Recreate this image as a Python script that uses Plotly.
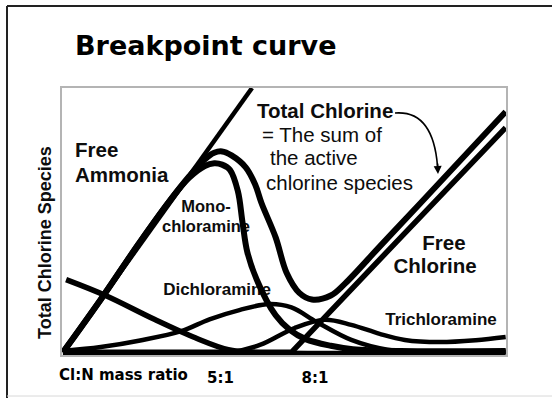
import plotly.graph_objects as go

# ---- data: Cl:N mass ratio (x) vs concentration of each species (arbitrary units) ----
dose_x = [0.0, 6.0]
dose_y = [0.0, 100.0]

ammonia_x = [0.1, 1.35, 2.9, 4.2, 5.25, 6.0, 14.05]
ammonia_y = [27.5, 21.5, 12.5, 5.5, 1.0, 0.0, 0.0]

mono_x = [0, 1.2, 2.4, 3.4, 4.0, 4.5, 4.8, 5.05, 5.3, 5.55, 5.7, 5.85, 6.15, 6.75, 7.2, 7.7, 8.5, 9.2, 10.7, 14.05]
mono_y = [0, 20, 41, 57.5, 66, 70.5, 71.5, 71, 69, 61, 49, 38, 27.5, 14, 8.5, 5, 2.5, 1.2, 0.5, 0.5]

dichlor_x = [0, 1.2, 2.45, 3.75, 4.65, 5.6, 6.55, 7.25, 8.05, 9.15, 10.3, 11.65, 14.05]
dichlor_y = [0.5, 2, 4.5, 8, 12.5, 16, 18.3, 17, 11.5, 4.7, 1, 0.2, 0.2]

trichlor_x = [0, 5.25, 6.25, 7.35, 8.3, 9.15, 10.05, 10.85, 11.95, 13.1, 14.05]
trichlor_y = [0, 0, 2.8, 9.2, 12.3, 10.4, 7, 4.7, 3.9, 4.6, 5.8]

free_cl_x = [0, 7.25, 10.6, 14.05]
free_cl_y = [0, 0, 42, 85]

total_x = [0, 1.2, 2.4, 3.4, 4.0, 4.5, 4.8, 5.05, 5.35, 5.8, 6.1, 6.3, 6.75, 7.1, 7.5, 7.9, 8.5, 8.95, 10.05, 11.35, 14.05]
total_y = [0, 20, 41, 57.5, 66.5, 73, 75.5, 76, 74.5, 70, 63.5, 56.5, 43.5, 30, 22.5, 20, 21.5, 26, 40, 56.5, 91]

tick_vals = [5, 8]
tick_text = ["5:1", "8:1"]

# ---- geometry ----
W, H = 552, 398
ML, MR, MT, MB = 62, 46, 88, 43
X_RANGE = [-0.03, 14.06]
Y_RANGE = [-1.0, 100.0]
PW, PH = W - ML - MR, H - MT - MB


def dx(px):
    return X_RANGE[0] + (px - ML) / PW * (X_RANGE[1] - X_RANGE[0])


def dy(py):
    return Y_RANGE[0] + (H - MB - py) / PH * (Y_RANGE[1] - Y_RANGE[0])


def qx(px):
    return (px - ML) / PW


def qy(py):
    return (H - MB - py) / PH


INK = "#0d0d0d"
SANS = "Liberation Sans"

fig = go.Figure()


def label(lines, size, weight="bold", pos="middle center"):
    fig.add_trace(go.Scatter(
        x=[dx(p[0]) for p in lines], y=[dy(p[1]) for p in lines],
        text=[p[2] for p in lines], mode="text", textposition=pos,
        textfont=dict(family=SANS, size=size, color=INK, weight=weight),
        hoverinfo="skip", showlegend=False, cliponaxis=False))


# labels go first so the curves are drawn over them
label([(75, 152, "Free"), (75, 177, "Ammonia")], 20.5, pos="middle right")
label([(206, 208, "Mono-"), (206, 228, "chloramine")], 16.5)
label([(217, 291, "Dichloramine")], 17)
label([(257, 113, "Total Chlorine")], 20.5, pos="middle right")
label([(262, 137, "= The sum of"), (270, 160, "the active"), (266, 185, "chlorine species")],
      20.5, weight="normal", pos="middle right")
label([(444, 245, "Free"), (435, 268, "Chlorine")], 20.5)
label([(441, 321, "Trichloramine")], 17)


def curve(x, y, width, shape="spline"):
    fig.add_trace(go.Scatter(
        x=x, y=y, mode="lines",
        line=dict(color="black", width=width, shape=shape, smoothing=1.0),
        hoverinfo="skip", showlegend=False))


curve(dose_x, dose_y, 4.5, "linear")
curve(ammonia_x, ammonia_y, 5.5)
curve(dichlor_x, dichlor_y, 4.5)
curve(trichlor_x, trichlor_y, 4.5)
curve(free_cl_x, free_cl_y, 5.5, "linear")
curve(mono_x, mono_y, 6)
curve(total_x, total_y, 6)

shapes = [
    # slide frame
    dict(type="line", xref="paper", yref="paper", x0=qx(7), y0=qy(6), x1=qx(560), y1=qy(6),
         line=dict(color="#222", width=2)),
    dict(type="line", xref="paper", yref="paper", x0=qx(7), y0=qy(6), x1=qx(7), y1=qy(398),
         line=dict(color="#222", width=2)),
    dict(type="line", xref="paper", yref="paper", x0=qx(7), y0=qy(396), x1=qx(560), y1=qy(396),
         line=dict(color="#d8d8d8", width=1)),
    # curved pointer from the "Total Chlorine" note
    dict(type="path", xref="paper", yref="paper",
         path=f"M {qx(395)},{qy(113)} Q {qx(433)},{qy(110)} {qx(437.5)},{qy(166)}",
         line=dict(color="black", width=1.6)),
]

annotations = [
    dict(text="Breakpoint curve", xref="paper", yref="paper", x=qx(73), y=qy(45),
         xanchor="left", yanchor="middle", showarrow=False,
         font=dict(family="DejaVu Sans", size=27, color="black", weight="bold")),
    dict(text="Total Chlorine Species", xref="paper", yref="paper", x=qx(45), y=qy(243),
         textangle=-90, xanchor="center", yanchor="middle", showarrow=False,
         font=dict(family=SANS, size=18, color=INK, weight="bold")),
    dict(text="Cl:N mass ratio", xref="paper", yref="paper", x=qx(123.5), y=qy(375),
         xanchor="center", yanchor="middle", showarrow=False,
         font=dict(family="DejaVu Sans", size=15, color="black", weight="bold")),
    dict(text="", xref="paper", yref="paper", x=qx(438), y=qy(174), ax=-0.5, ay=-12,
         showarrow=True, arrowhead=2, arrowsize=1, arrowwidth=1.6, arrowcolor="black",
         standoff=0),
]

fig.update_layout(
    width=W, height=H,
    margin=dict(l=ML, r=MR, t=MT, b=MB, pad=0),
    paper_bgcolor="white", plot_bgcolor="white",
    shapes=shapes, annotations=annotations,
    xaxis=dict(range=X_RANGE, tickvals=tick_vals, ticktext=tick_text, ticks="",
               showgrid=False, zeroline=False, showline=True, mirror=True,
               linecolor="#b4b4b4", linewidth=1.5, ticklabelstandoff=8,
               tickfont=dict(family="DejaVu Sans", size=15, color="black", weight="bold"),
               fixedrange=True),
    yaxis=dict(range=Y_RANGE, showticklabels=False, ticks="", showgrid=False,
               zeroline=False, showline=True, mirror=True, linecolor="#b4b4b4",
               linewidth=1.5, fixedrange=True),
    showlegend=False,
)

fig.write_html("out.html", config={"displayModeBar": False})
